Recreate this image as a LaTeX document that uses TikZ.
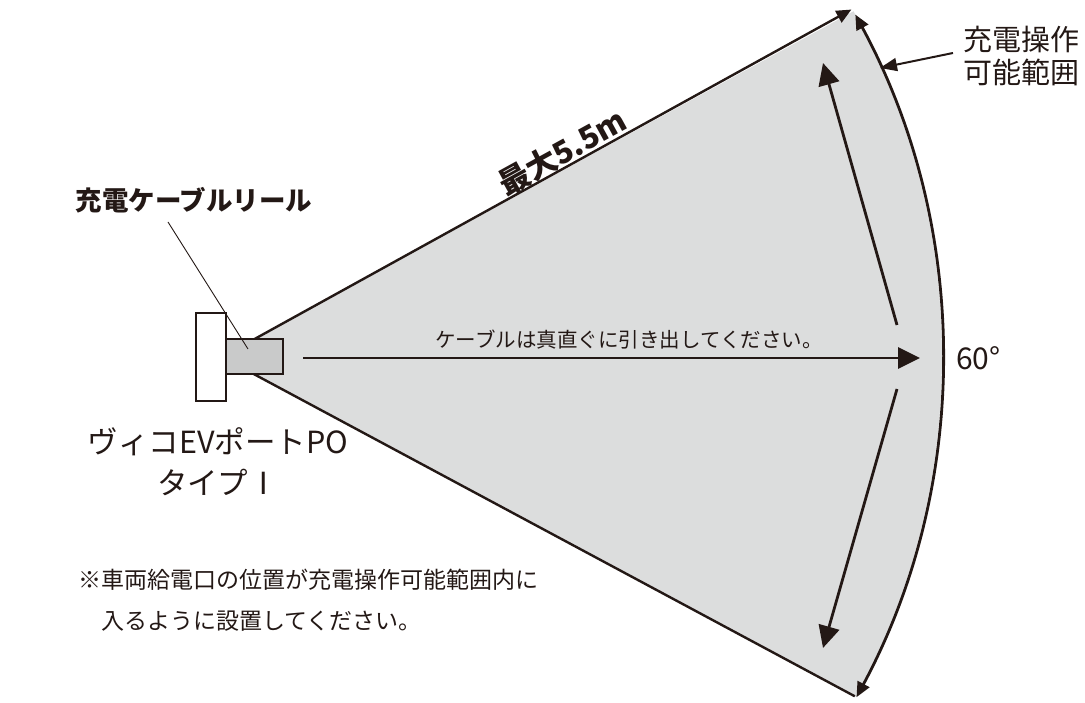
\documentclass[tikz,border=0pt]{standalone}
\usepackage{fontspec}
\setmainfont{Noto Sans CJK JP}
\usetikzlibrary{arrows.meta}
\definecolor{ink}{HTML}{231815}
\definecolor{sectorgray}{HTML}{DCDDDD}
\definecolor{reelgray}{HTML}{C9CACA}
\begin{document}
\begin{tikzpicture}[x=1pt,y=1pt,
  edge/.style={draw=ink,line width=2.4pt},
  bigarrow/.style={draw=ink,line width=2.8pt,-{Triangle[length=22pt,width=21pt]}},
  smalltip/.tip={Triangle[length=15pt,width=13pt]},
  lbl/.style={text=ink,inner sep=0pt}
]
\useasboundingbox (0,0) rectangle (1085,702);
\coordinate (A) at (222,345);
\coordinate (U) at ([shift={(28.9:719)}]A);
\coordinate (L) at ([shift={(-28.2:718)}]A);
% sector fill
\fill[sectorgray] (A) -- ([shift={(28.7:720)}]A) arc[start angle=28.7,end angle=-28.2,radius=720] -- cycle;
% edges
\draw[edge,-{smalltip}] (A) -- (U);
\draw[edge] (A) -- (L);
\coordinate (UA) at ([shift={(28.4:720)}]A);
\draw[draw=ink,line width=2.8pt,{smalltip}-{smalltip}] (UA) arc[start angle=28.4,end angle=-28.2,radius=720];
% inner arrows
\coordinate (i1s) at (897,377);
\coordinate (i1e) at (823,639);
\coordinate (i2s) at (897,313);
\coordinate (i2e) at (823,54);
\draw[bigarrow] (i1s) -- (i1e);
\draw[bigarrow] (i2s) -- (i2e);
% center arrow
\coordinate (cs) at (303,344);
\coordinate (ce) at (920,344);
\draw[bigarrow] (cs) -- (ce);
\node[lbl,font=\fontsize{20.5}{24}\selectfont] (ctext) at (629,362) {ケーブルは真直ぐに引き出してください。};
% wall and reel
\node[draw=ink,line width=2.4pt,fill=white,minimum width=30pt,minimum height=88pt,inner sep=0pt] (wall) at (211,345) {};
\node[draw=ink,line width=2.4pt,fill=reelgray,minimum width=57pt,minimum height=35pt,inner sep=0pt] (reel) at (254.5,345.5) {};
% leader
\coordinate (lead) at (248,353);
\node[lbl,font=\fontsize{26.5}{30}\selectfont\bfseries] (reellbl) at (194,502) {充電ケーブルリール};
\coordinate (leadtop) at (168,480);
\draw[ink,line width=0.9pt] (leadtop) -- (lead);
% max label
\node[lbl,font=\fontsize{31}{34}\selectfont\bfseries,rotate=28.8,anchor=south,yshift=1pt] (maxlbl) at ([shift={(28.8:397)}]A) {最大5.5m};
% range label
\node[lbl,font=\fontsize{29}{33}\selectfont,align=left,anchor=west] (range) at (963,646) {充電操作\\可能範囲};
\coordinate (rs) at (953,649);
\coordinate (re) at (880,634);
\draw[ink,line width=2pt,-{Triangle[length=17pt,width=13pt]}] (rs) -- (re);
% 60 deg
\node[lbl,font=\fontsize{30}{34}\selectfont,anchor=west] (deg) at (956,344) {60°};
% port label
\node[lbl,font=\fontsize{30.5}{41}\selectfont,align=center] (port) at (218,240) {ヴィコEVポートPO\\タイプⅠ};
% note
\node[lbl,font=\fontsize{23}{41}\selectfont,align=left,anchor=west] (note) at (78,102) {※車両給電口の位置が充電操作可能範囲内に\\　入るように設置してください。};
\end{tikzpicture}
\end{document}
